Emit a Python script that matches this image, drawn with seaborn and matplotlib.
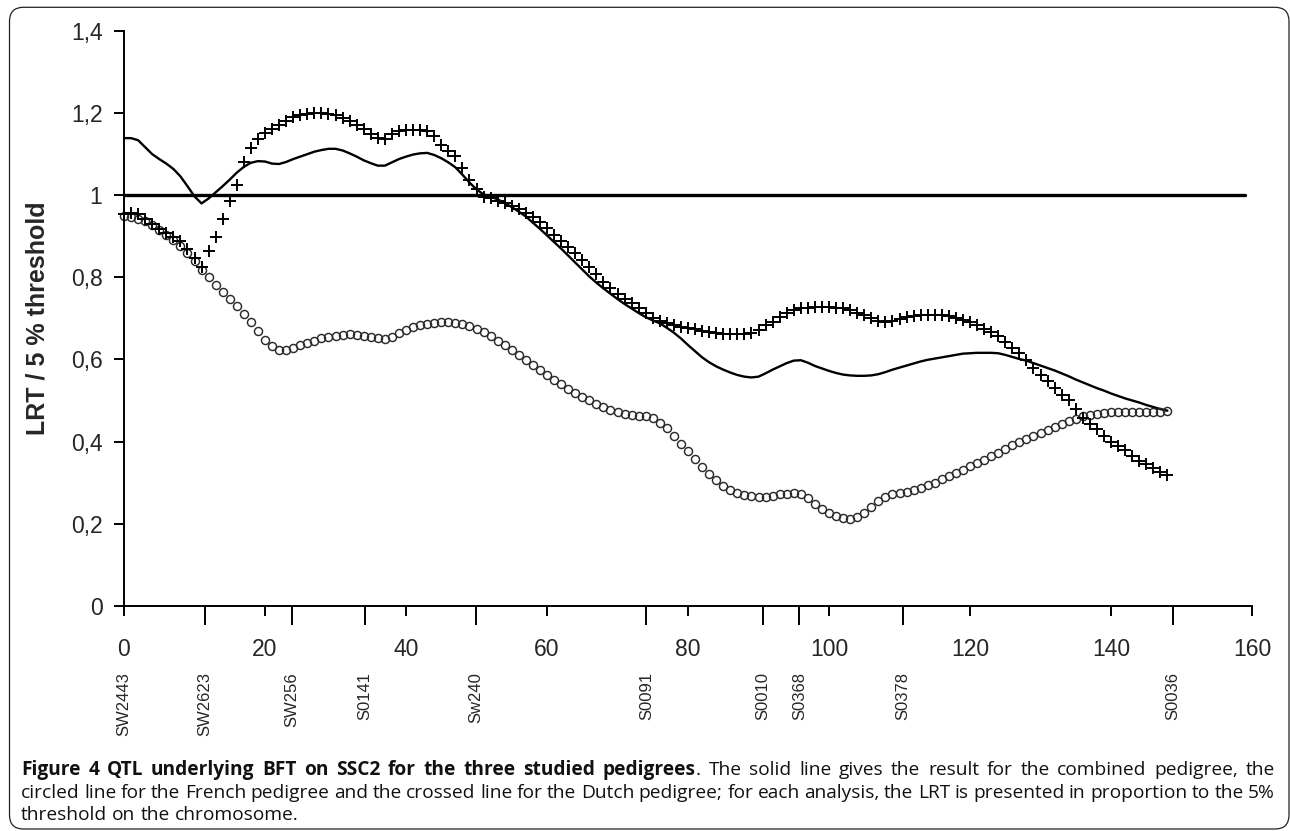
import matplotlib
matplotlib.use("Agg")
import pandas as pd
import matplotlib.pyplot as plt
import seaborn as sns
from matplotlib.patches import FancyBboxPatch
from matplotlib.transforms import IdentityTransform

# ==================================
# DATA
# ==================================

position_cm = list(range(149))

combined = [
    1.139, 1.139, 1.134, 1.117, 1.100, 1.088, 1.077, 1.064, 1.046, 1.022,
    0.997, 0.980, 0.992, 1.007, 1.022, 1.038, 1.055, 1.069, 1.079, 1.083,
    1.082, 1.077, 1.076, 1.081, 1.088, 1.094, 1.100, 1.106, 1.110, 1.113,
    1.113, 1.109, 1.102, 1.094, 1.085, 1.078, 1.072, 1.072, 1.080, 1.088,
    1.094, 1.099, 1.102, 1.103, 1.098, 1.090, 1.080, 1.068, 1.050, 1.031,
    1.014, 1.002, 0.996, 0.990, 0.981, 0.971, 0.960, 0.948, 0.933, 0.918,
    0.902, 0.886, 0.870, 0.853, 0.836, 0.819, 0.802, 0.787, 0.773, 0.760,
    0.747, 0.735, 0.724, 0.713, 0.703, 0.695, 0.688, 0.677, 0.665, 0.651,
    0.635, 0.620, 0.605, 0.593, 0.583, 0.575, 0.568, 0.562, 0.558, 0.556,
    0.558, 0.566, 0.575, 0.583, 0.591, 0.597, 0.598, 0.592, 0.584, 0.578,
    0.572, 0.567, 0.563, 0.561, 0.560, 0.560, 0.561, 0.564, 0.569, 0.575,
    0.580, 0.585, 0.590, 0.595, 0.599, 0.602, 0.605, 0.608, 0.611, 0.614,
    0.615, 0.616, 0.616, 0.616, 0.615, 0.611, 0.606, 0.601, 0.597, 0.591,
    0.585, 0.579, 0.573, 0.566, 0.559, 0.551, 0.544, 0.537, 0.530, 0.524,
    0.517, 0.511, 0.505, 0.500, 0.495, 0.489, 0.484, 0.479, 0.475,
]

french = [
    0.949, 0.947, 0.942, 0.936, 0.927, 0.916, 0.904, 0.891, 0.877, 0.860,
    0.840, 0.819, 0.800, 0.782, 0.765, 0.748, 0.730, 0.710, 0.690, 0.668,
    0.648, 0.633, 0.624, 0.624, 0.628, 0.634, 0.640, 0.646, 0.651, 0.655,
    0.658, 0.660, 0.661, 0.660, 0.658, 0.655, 0.651, 0.649, 0.655, 0.664,
    0.672, 0.678, 0.683, 0.687, 0.689, 0.690, 0.690, 0.689, 0.686, 0.681,
    0.675, 0.667, 0.657, 0.646, 0.634, 0.622, 0.610, 0.598, 0.586, 0.574,
    0.562, 0.550, 0.539, 0.528, 0.518, 0.509, 0.500, 0.492, 0.484, 0.477,
    0.472, 0.468, 0.465, 0.463, 0.461, 0.457, 0.446, 0.432, 0.414, 0.394,
    0.376, 0.357, 0.338, 0.320, 0.305, 0.292, 0.282, 0.275, 0.270, 0.267,
    0.266, 0.266, 0.268, 0.271, 0.273, 0.274, 0.272, 0.262, 0.248, 0.235,
    0.225, 0.218, 0.213, 0.212, 0.216, 0.226, 0.240, 0.254, 0.265, 0.271,
    0.275, 0.278, 0.282, 0.287, 0.293, 0.300, 0.308, 0.316, 0.323, 0.331,
    0.340, 0.348, 0.356, 0.364, 0.373, 0.382, 0.391, 0.399, 0.407, 0.414,
    0.421, 0.428, 0.435, 0.442, 0.449, 0.456, 0.461, 0.465, 0.468, 0.470,
    0.471, 0.472, 0.472, 0.473, 0.473, 0.473, 0.473, 0.473, 0.474,
]

dutch = [
    0.955, 0.956, 0.955, 0.943, 0.929, 0.917, 0.908, 0.899, 0.888, 0.868,
    0.848, 0.825, 0.865, 0.897, 0.942, 0.985, 1.026, 1.080, 1.115, 1.137,
    1.152, 1.162, 1.170, 1.180, 1.190, 1.195, 1.198, 1.200, 1.200, 1.199,
    1.196, 1.188, 1.180, 1.172, 1.162, 1.150, 1.140, 1.136, 1.149, 1.156,
    1.159, 1.160, 1.160, 1.156, 1.145, 1.123, 1.108, 1.095, 1.066, 1.037,
    1.014, 0.996, 0.993, 0.986, 0.980, 0.973, 0.966, 0.957, 0.946, 0.934,
    0.920, 0.904, 0.889, 0.873, 0.858, 0.842, 0.824, 0.807, 0.789, 0.773,
    0.760, 0.748, 0.738, 0.725, 0.713, 0.702, 0.694, 0.689, 0.684, 0.680,
    0.676, 0.673, 0.670, 0.667, 0.664, 0.663, 0.663, 0.663, 0.663, 0.664,
    0.672, 0.684, 0.692, 0.703, 0.713, 0.720, 0.724, 0.726, 0.727, 0.727,
    0.727, 0.726, 0.724, 0.721, 0.714, 0.707, 0.700, 0.694, 0.690, 0.694,
    0.699, 0.703, 0.706, 0.707, 0.707, 0.707, 0.707, 0.705, 0.701, 0.696,
    0.690, 0.683, 0.675, 0.667, 0.656, 0.642, 0.628, 0.615, 0.598, 0.580,
    0.562, 0.547, 0.530, 0.513, 0.500, 0.480, 0.458, 0.443, 0.430, 0.414,
    0.399, 0.389, 0.379, 0.365, 0.352, 0.344, 0.335, 0.326, 0.318,
]

threshold = 1.0

marker_names = ["SW2443", "SW2623", "SW256", "S0141", "Sw240",
                "S0091", "S0010", "S0368", "S0378", "S0036"]
marker_cm = [0, 11.5, 23.8, 34.2, 49.9, 74.1, 90.6, 95.8, 110.5, 148.8]

x_ticks = [0, 20, 40, 60, 80, 100, 120, 140, 160]
y_ticks = [0, 0.2, 0.4, 0.6, 0.8, 1.0, 1.2, 1.4]
y_tick_labels = ["0", "0,2", "0,4", "0,6", "0,8", "1", "1,2", "1,4"]

caption_lines = [
    ([("Figure", "bold"), ("4", "bold"), ("QTL", "bold"), ("underlying", "bold"),
      ("BFT", "bold"), ("on", "bold"), ("SSC2", "bold"), ("for", "bold"),
      ("the", "bold"), ("three", "bold"), ("studied", "bold"),
      (("pedigrees", "bold"), (".", "normal")),
      ("The", "normal"), ("solid", "normal"), ("line", "normal"), ("gives", "normal"),
      ("the", "normal"), ("result", "normal"), ("for", "normal"), ("the", "normal"),
      ("combined", "normal"), ("pedigree,", "normal"), ("the", "normal")], True),
    ([(w, "normal") for w in
      "circled line for the French pedigree and the crossed line for the Dutch "
      "pedigree; for each analysis, the LRT is presented in proportion to the 5%".split()], True),
    ([(w, "normal") for w in "threshold on the chromosome.".split()], False),
]

# ==================================
# FIGURE
# ==================================

sns.set_style("ticks")
plt.rcParams["font.family"] = ["Liberation Sans", "DejaVu Sans"]

W, H = 1290, 831
fig = plt.figure(figsize=(W / 100, H / 100), dpi=100)
ax = fig.add_axes([124 / W, 1 - 605.7 / H, (1252 - 124) / W, (605.7 - 31) / H])

df = pd.DataFrame({"cM": position_cm, "combined": combined,
                   "french": french, "dutch": dutch})

ax.axhline(threshold, xmin=0, xmax=0.994, color="black", lw=2.4)

sns.lineplot(data=df, x="cM", y="combined", ax=ax, color="black", lw=1.7)

sns.lineplot(data=df, x="cM", y="french", ax=ax, linestyle="none",
             marker="o", markersize=5.8, markerfacecolor="none",
             markeredgecolor="#2a2a2a", markeredgewidth=1.05, clip_on=False)

sns.lineplot(data=df, x="cM", y="dutch", ax=ax, linestyle="none",
             marker="+", markersize=8.5, markeredgecolor="black",
             markeredgewidth=1.4, clip_on=False)

ax.set_xlim(0, 160)
ax.set_ylim(0, 1.4)
ax.set_xlabel("")
ax.set_ylabel("LRT / 5 % threshold", fontsize=18, fontweight="bold")
ax.yaxis.set_label_coords(-0.066, 0.5)

ax.set_xticks(x_ticks)
ax.set_xticklabels([str(t) for t in x_ticks])
ax.set_xticks(marker_cm, minor=True)
ax.set_yticks(y_ticks)
ax.set_yticklabels(y_tick_labels)

ax.tick_params(axis="x", which="major", length=7.2, width=1.4, pad=15.8,
               labelsize=16.5, color="black")
ax.tick_params(axis="x", which="minor", length=13.7, width=1.4, color="black")
ax.tick_params(axis="y", length=7.2, width=1.4, pad=8.3, labelsize=16.5,
               color="black")

for side in ["top", "right"]:
    ax.spines[side].set_visible(False)
for side in ["left", "bottom"]:
    ax.spines[side].set_linewidth(1.4)
    ax.spines[side].set_color("black")

for name, cm in zip(marker_names, marker_cm):
    ax.text(cm, -0.1154, name, rotation=90, ha="center", va="top",
            fontsize=12, transform=ax.get_xaxis_transform())

# ==================================
# CAPTION + FRAME
# ==================================

renderer = fig.canvas.get_renderer()
left_px, right_px = 21, 1275
baselines = [775, 798, 820]


def make_word(word):
    parts = word if isinstance(word[0], tuple) else (word,)
    arts = []
    width = 0
    for txt, wt in parts:
        t = fig.text(0, 0, txt, fontsize=13.8, family="Open Sans", fontweight=wt,
                     va="baseline", ha="left", transform=IdentityTransform(),
                     color="#111111")
        w = t.get_window_extent(renderer).width
        arts.append((t, width))
        width += w
    return arts, width


for (words, justify), base in zip(caption_lines, baselines):
    built = [make_word(w) for w in words]
    total = sum(b[1] for b in built)
    if justify:
        gap = (right_px - left_px - total) / (len(built) - 1)
    else:
        gap = 5.0
    x = left_px
    for arts, width in built:
        for t, off in arts:
            t.set_position((x + off, H - base))
        x += width + gap

frame = FancyBboxPatch((9.5, H - 829), 1279.5, 829 - 7.3,
                       boxstyle="round,pad=0,rounding_size=14",
                       transform=IdentityTransform(), fill=False,
                       edgecolor="#222222", lw=0.9)
fig.add_artist(frame)

fig.savefig("out.png", dpi=100)
